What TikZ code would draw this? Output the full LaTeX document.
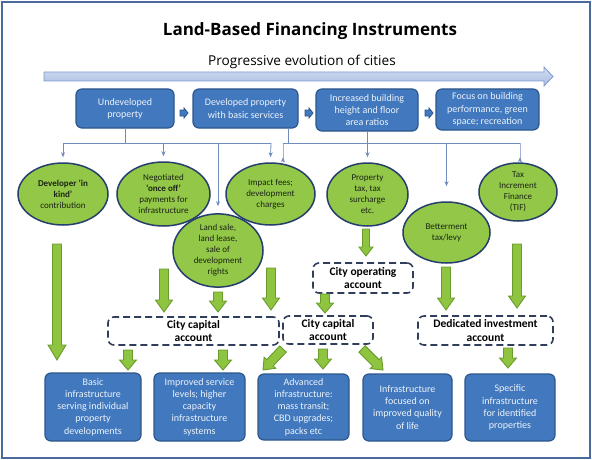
\documentclass[tikz,border=0pt]{standalone}
\usepackage{fontspec}
\setmainfont{Carlito}
\newfontfamily\titlefont{Open Sans}
\usetikzlibrary{calc,shapes.geometric,arrows.meta}
\definecolor{framec}{RGB}{74,106,156}
\definecolor{boxfill}{RGB}{66,121,190}
\definecolor{boxline}{RGB}{44,86,140}
\definecolor{boxtext}{RGB}{236,242,250}
\definecolor{ellfill}{RGB}{146,199,72}
\definecolor{ellline}{RGB}{38,62,108}
\definecolor{elltext}{RGB}{28,36,22}
\definecolor{grfill}{RGB}{142,196,64}
\definecolor{grline}{RGB}{104,156,44}
\definecolor{connc}{RGB}{112,140,190}
\definecolor{acctline}{RGB}{48,62,92}
\definecolor{evotop}{RGB}{212,223,242}
\definecolor{evobot}{RGB}{166,188,225}
\definecolor{evoline}{RGB}{128,154,204}
\newcommand\blockarrow[6]{%
  \path let \p1=(#5), \p2=(#6) in \pgfextra{%
    \pgfmathsetmacro\BAang{atan2(\y2-\y1,\x2-\x1)}%
    \pgfmathsetmacro\BAlen{veclen(\x2-\x1,\y2-\y1)}%
    \global\let\BAang\BAang \global\let\BAlen\BAlen};
  \draw[#1, shift={(#5)}, rotate=\BAang] (0pt,-#4pt) -- ({\BAlen pt-#2pt},-#4pt) -- ({\BAlen pt-#2pt},-#3pt) -- (\BAlen pt,0pt) -- ({\BAlen pt-#2pt},#3pt) -- ({\BAlen pt-#2pt},#4pt) -- (0pt,#4pt) -- cycle;}
\tikzset{
  blueb/.style={draw=boxline, line width=1.2pt, fill=boxfill, rounded corners=6pt, text=boxtext, align=center, font=\fontsize{10}{12.2}\selectfont, inner sep=1pt},
  ell/.style={ellipse, draw=ellline, line width=1.5pt, fill=ellfill, align=center, inner sep=0pt, text=elltext, font=\fontsize{9}{11}\selectfont},
  acct/.style={draw=acctline, line width=1.6pt, dash pattern=on 7pt off 4pt, rounded corners=6pt, align=center, font=\bfseries\fontsize{11.5}{13.5}\selectfont, inner sep=0pt},
  conn/.style={draw=connc, line width=0.8pt},
  connar/.style={conn, -{Stealth[length=5pt,width=4pt]}},
  greenarrow/.style={fill=grfill, draw=grline, line width=0.9pt, line join=miter},
  smallarrow/.style={fill=boxfill, draw=boxline, line width=0.8pt}
}
\begin{document}
\begin{tikzpicture}[x=1pt, y=-1pt]
\useasboundingbox (0,0) rectangle (592,460);
\fill[white] (0,0) rectangle (592,460);
\draw[framec, line width=2.2pt] (2,2) rectangle (590,458);

% titles
\node[font=\titlefont\bfseries\fontsize{17}{20}\selectfont] (title) at (310,31) {Land-Based Financing Instruments};
\node[font=\titlefont\fontsize{13.6}{16}\selectfont] (subtitle) at (302,62) {Progressive evolution of cities};

% evolution arrow
\shade[top color=evotop, bottom color=evobot, draw=evoline, line width=0.8pt]
  (44,72) -- (544,72) -- (544,67) -- (553,76.5) -- (544,86) -- (544,81) -- (44,81) -- cycle;

% top boxes
\node[blueb, minimum width=98pt, minimum height=39pt] (b1) at (125,108.5) {Undeveloped\\property};
\node[blueb, minimum width=105pt, minimum height=39pt] (b2) at (245.5,108.5) {Developed property\\with basic services};
\node[blueb, minimum width=102pt, minimum height=42pt] (b3) at (367,110) {Increased building\\height and floor\\area ratios};
\node[blueb, minimum width=103pt, minimum height=41pt] (b4) at (487.5,109.5) {Focus on building\\performance, green\\space; recreation};

\coordinate (s1a) at (180,113); \coordinate (s1b) at (188,113);
\coordinate (s2a) at (305,113); \coordinate (s2b) at (313,113);
\coordinate (s3a) at (425,113); \coordinate (s3b) at (433,113);
\blockarrow{smallarrow}{4}{5}{3}{s1a}{s1b}
\blockarrow{smallarrow}{4}{5}{3}{s2a}{s2b}
\blockarrow{smallarrow}{4}{5}{3}{s3a}{s3b}

% ellipses
\node[ell, minimum width=90pt, minimum height=62pt] (e1) at (63,194) {\textbf{Developer ‘in}\\\textbf{kind’}\\contribution};
\node[ell, minimum width=93pt, minimum height=64pt] (e2) at (163.5,194) {Negotiated\\\textbf{‘once off’}\\payments for\\infrastructure};
\node[ell, minimum width=89pt, minimum height=62pt] (e3) at (270.5,194) {Impact fees;\\development\\charges};
\node[ell, minimum width=90pt, minimum height=63pt] (e4) at (218,250.5) {Land sale,\\land lease,\\sale of\\development\\rights};
\node[ell, minimum width=81pt, minimum height=63pt] (e5) at (367.5,194.5) {Property\\tax, tax\\surcharge\\etc.};
\node[ell, minimum width=87pt, minimum height=61pt] (e6) at (446.5,232.5) {Betterment\\tax/levy};
\node[ell, minimum width=78pt, minimum height=58pt] (e7) at (518,192) {Tax\\Increment\\Finance\\(TIF)};

% connectors
\coordinate (busA0) at (63,143);
\coordinate (busA1) at (271,143);
\coordinate (busB0) at (283,143);
\coordinate (busB1) at (520,143);
\draw[conn] (b1.south) -- (b1.south |- busA0);
\draw[conn] (busA0) -- (busA1);
\draw[connar] (busA0) -- ([yshift=5pt]e1.north);
\draw[connar] (busA0 -| e2.north) -- ([yshift=5pt]e2.north);
\draw[connar] (busA0 -| e4.north) -- ([yshift=7pt]e4.north);
\draw[connar] (busA1) -- ([yshift=5pt]e3.north);
\draw[conn] ([xshift=-10pt]b2.south east) -- ([xshift=-10pt]b2.south east |- busB0);
\draw[conn] (busB0) -- (busB1);
\draw[conn] (b3.south) -- (b3.south |- busB0);
\draw[connar] (busB0) -- (busB0 |- e3.north) -- ++(0,-5);
\draw[connar] (busB0 -| e5.north) -- ([yshift=5pt]e5.north);
\draw[connar] (busB0 -| e6.north) -- ([yshift=15pt]e6.north);
\draw[connar] (busB1) -- (busB1 |- e7.north) -- ++(0,-5);

% account boxes
\node[acct, minimum width=100pt, minimum height=30pt] (ops) at (363,278) {City operating\\account};
\node[acct, minimum width=171pt, minimum height=28pt] (cap1) at (193.5,331) {City capital\\account};
\node[acct, minimum width=90pt, minimum height=28pt] (cap2) at (328,330) {City capital\\account};
\node[acct, minimum width=135pt, minimum height=29pt] (ded) at (485.5,330.5) {Dedicated investment\\account};

% bottom boxes
\node[blueb, minimum width=96pt, minimum height=68pt] (o1) at (93,407) {Basic\\infrastructure\\serving individual\\property\\developments};
\node[blueb, minimum width=91pt, minimum height=68pt] (o2) at (199.5,407) {Improved service\\levels; higher\\capacity\\infrastructure\\systems};
\node[blueb, minimum width=91pt, minimum height=66pt] (o3) at (303.5,407) {Advanced\\infrastructure:\\mass transit;\\CBD upgrades;\\packs etc};
\node[blueb, minimum width=89pt, minimum height=67pt] (o4) at (407.5,407.5) {Infrastructure\\focused on\\improved quality\\of life};
\node[blueb, minimum width=90pt, minimum height=67pt] (o5) at (510,407.5) {Specific\\infrastructure\\for identified\\properties};

% green block arrows
\coordinate (g1s) at (57,244);  \coordinate (g1e) at (57,360);
\coordinate (g2s) at (164,269); \coordinate (g2e) at (164,312);
\coordinate (g3s) at (218,292); \coordinate (g3e) at (218,312);
\coordinate (g4s) at (271,268); \coordinate (g4e) at (271,310);
\coordinate (g5s) at (366,229); \coordinate (g5e) at (366,256);
\coordinate (g6s) at (325,294); \coordinate (g6e) at (325,313);
\coordinate (g7s) at (446,267); \coordinate (g7e) at (446,310);
\coordinate (g8s) at (517,244); \coordinate (g8e) at (517,308);
\coordinate (g9s) at (128,350); \coordinate (g9e) at (128,370);
\coordinate (g10s) at (223,350); \coordinate (g10e) at (223,370);
\coordinate (g11s) at (283,349); \coordinate (g11e) at (263,370);
\coordinate (g12s) at (323,349); \coordinate (g12e) at (323,369);
\coordinate (g13s) at (362,349); \coordinate (g13e) at (383,370);
\coordinate (g14s) at (508,348); \coordinate (g14e) at (508,368);
\blockarrow{greenarrow}{15}{9}{4.5}{g1s}{g1e}
\blockarrow{greenarrow}{12}{8.5}{4.5}{g2s}{g2e}
\blockarrow{greenarrow}{11}{8.5}{4.5}{g3s}{g3e}
\blockarrow{greenarrow}{12}{8.5}{4.5}{g4s}{g4e}
\blockarrow{greenarrow}{9}{7}{3.5}{g5s}{g5e}
\blockarrow{greenarrow}{10}{8.5}{4.5}{g6s}{g6e}
\blockarrow{greenarrow}{12}{8.5}{4.5}{g7s}{g7e}
\blockarrow{greenarrow}{12}{8.5}{4.5}{g8s}{g8e}
\blockarrow{greenarrow}{10}{8.5}{4.5}{g9s}{g9e}
\blockarrow{greenarrow}{10}{8.5}{4.5}{g10s}{g10e}
\blockarrow{greenarrow}{10}{8}{4.5}{g11s}{g11e}
\blockarrow{greenarrow}{10}{8.5}{4.5}{g12s}{g12e}
\blockarrow{greenarrow}{10}{8}{4.5}{g13s}{g13e}
\blockarrow{greenarrow}{10}{8.5}{4.5}{g14s}{g14e}
\end{tikzpicture}
\end{document}
